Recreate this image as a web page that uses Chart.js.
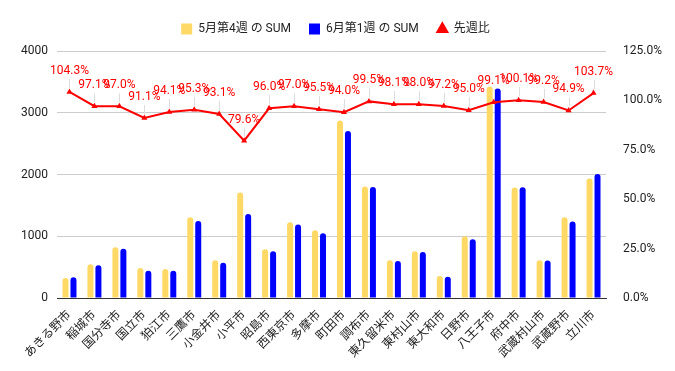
<!DOCTYPE html>
<html>
<head>
<meta charset="utf-8">
<script src="https://cdn.jsdelivr.net/npm/chart.js@4"></script>
<style>
  html, body { margin: 0; padding: 0; background: #fff; }
  #wrap { width: 675px; height: 371px; }
</style>
</head>
<body>
<div id="wrap"><canvas id="myChart" width="675" height="371"></canvas></div>
<script>
const cities = [
    "あきる野市", "稲城市", "国分寺市", "国立市", "狛江市", "三鷹市",
    "小金井市", "小平市", "昭島市", "西東京市", "多摩市", "町田市",
    "調布市", "東久留米市", "東村山市", "東大和市", "日野市", "八王子市",
    "府中市", "武蔵村山市", "武蔵野市", "立川市",
];

// 5月第4週 の SUM
const mayWeek4 = [
    322, 548, 823, 484, 468, 1306, 613, 1710, 790, 1226, 1097,
    2876, 1806, 613, 758, 355, 1000, 3424, 1790, 613, 1306, 1935,
];

// 6月第1週 の SUM
const juneWeek1 = [
    336, 532, 798, 441, 440, 1245, 571, 1361, 758, 1189, 1048,
    2703, 1797, 601, 743, 345, 950, 3393, 1792, 608, 1239, 2007,
];

// 先週比 (%)
const weekRatio = [
    104.3, 97.1, 97.0, 91.1, 94.1, 95.3, 93.1, 79.6, 96.0, 97.0, 95.5,
    94.0, 99.5, 98.1, 98.0, 97.2, 95.0, 99.1, 100.1, 99.2, 94.9, 103.7,
];

const leftTicks = [0, 1000, 2000, 3000, 4000];
const rightTicks = [0, 25, 50, 75, 100, 125];

const fontFamily = "Roboto, 'Noto Sans CJK JP', sans-serif";

// red % labels above each point with a thin leader line
const pointLabels = {
    id: "pointLabels",
    afterDatasetsDraw(chart) {
        const meta = chart.getDatasetMeta(2);
        const ctx = chart.ctx;
        ctx.save();
        meta.data.forEach((pt, i) => {
            ctx.strokeStyle = "#dcdcdc";
            ctx.lineWidth = 1;
            ctx.beginPath();
            ctx.moveTo(Math.round(pt.x) + 0.5, pt.y - 13);
            ctx.lineTo(Math.round(pt.x) + 0.5, pt.y - 4);
            ctx.stroke();
            ctx.fillStyle = "#ff0000";
            ctx.font = "12px " + fontFamily;
            ctx.textAlign = "center";
            ctx.textBaseline = "middle";
            ctx.fillText(weekRatio[i].toFixed(1) + "%", pt.x, pt.y - 21);
        });
        ctx.restore();
    },
};

// keep the legend block a fixed height and nudge it down a little
const legendHeight = {
    id: "legendHeight",
    afterInit(chart) {
        const legend = chart.legend;
        const fit = legend.fit;
        legend.fit = function () {
            fit.call(this);
            this.height = 51;
        };
        const draw = legend.draw;
        legend.draw = function () {
            const ctx = this.ctx;
            ctx.save();
            ctx.translate(-2, 5);
            draw.call(this);
            ctx.restore();
        };
    },
};

const barStyle = {
    categoryPercentage: 0.64,
    barPercentage: 0.75,
    borderRadius: { topLeft: 3, topRight: 3 },
    borderSkipped: "bottom",
    pointStyle: "rect",
    yAxisID: "y",
    order: 2,
};

new Chart(document.getElementById("myChart").getContext("2d"), {
    type: "bar",
    data: {
        labels: cities,
        datasets: [
            {
                label: "5月第4週 の SUM",
                data: mayWeek4,
                backgroundColor: "#ffd966",
                ...barStyle,
            },
            {
                label: "6月第1週 の SUM",
                data: juneWeek1,
                backgroundColor: "#0000ff",
                ...barStyle,
            },
            {
                type: "line",
                label: "先週比",
                data: weekRatio,
                borderColor: "#ff0000",
                backgroundColor: "#ff0000",
                borderWidth: 2,
                pointStyle: "triangle",
                pointRadius: 3.5,
                pointBorderWidth: 0,
                tension: 0,
                yAxisID: "y1",
                order: 0,
            },
        ],
    },
    options: {
        responsive: false,
        animation: false,
        layout: { padding: 0 },
        plugins: {
            legend: {
                position: "top",
                labels: {
                    usePointStyle: true,
                    boxWidth: 11,
                    boxHeight: 11,
                    padding: 18,
                    color: "#222",
                    font: { family: fontFamily, size: 12 },
                    sort: (a, b) => a.datasetIndex - b.datasetIndex,
                },
            },
            tooltip: { enabled: false },
        },
        scales: {
            x: {
                afterFit: (axis) => { axis.height = 73; },
                grid: { display: false },
                border: { color: "#333", width: 1 },
                ticks: {
                    color: "#222",
                    padding: 2,
                    maxRotation: 45,
                    minRotation: 45,
                    autoSkip: false,
                    font: { family: fontFamily, size: 12 },
                },
            },
            y: {
                position: "left",
                min: leftTicks[0],
                max: leftTicks[leftTicks.length - 1],
                afterFit: (axis) => { axis.width = 57; },
                afterBuildTicks: (axis) => {
                    axis.ticks = leftTicks.map((v) => ({ value: v }));
                },
                grid: { color: "#cccccc", drawTicks: false },
                border: { display: false },
                ticks: {
                    color: "#222",
                    padding: 9,
                    font: { family: fontFamily, size: 12 },
                    callback: (v) => String(v),
                },
            },
            y1: {
                position: "right",
                min: rightTicks[0],
                max: rightTicks[rightTicks.length - 1],
                afterFit: (axis) => { axis.width = 69; },
                afterBuildTicks: (axis) => {
                    axis.ticks = rightTicks.map((v) => ({ value: v }));
                },
                grid: { display: false },
                border: { display: false },
                ticks: {
                    color: "#222",
                    padding: 9,
                    font: { family: fontFamily, size: 12 },
                    callback: (v) => v.toFixed(1) + "%",
                },
            },
        },
    },
    plugins: [pointLabels, legendHeight],
});
</script>
</body>
</html>
